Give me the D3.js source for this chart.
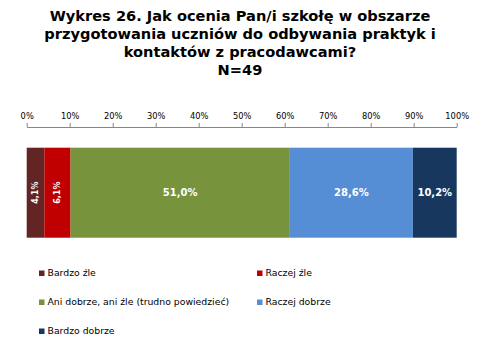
<!DOCTYPE html>
<html><head><meta charset="utf-8">
<script src="https://cdn.jsdelivr.net/npm/d3@7"></script>
<style>body{margin:0;background:#fff}svg{display:block}</style>
</head><body>
<svg id="c" width="480" height="360"></svg>
<script>
const categories = ["Bardzo źle","Raczej źle","Ani dobrze, ani źle (trudno powiedzieć)","Raczej dobrze","Bardzo dobrze"];
const values = [4.1, 6.1, 51.0, 28.6, 10.2];
const colors = ["#632523","#C00000","#77933C","#558ED5","#17375E"];
const tickValues = [0,10,20,30,40,50,60,70,80,90,100];
const titleLines = ["Wykres 26. Jak ocenia Pan/i szkołę w obszarze","przygotowania uczniów do odbywania praktyk i","kontaktów z pracodawcami?","N=49"];

const svg = d3.select("#c");
const font = "DejaVu Sans, Verdana, sans-serif";

// title
svg.append("g").selectAll("text").data(titleLines).join("text")
  .attr("x", 240).attr("y", (d,i)=>20.5 + i*18.3)
  .attr("text-anchor","middle").attr("font-family",font)
  .attr("font-weight","bold").attr("font-size",14.6).attr("fill","#000")
  .text(d=>d);

const x = d3.scaleLinear().domain([0,100]).range([26.7,456.7]);
const axisY = 127;
const axis = d3.axisTop(x).tickValues(tickValues).tickSize(4).tickSizeOuter(0).tickFormat(d=>d+"%");
const ga = svg.append("g").attr("transform",`translate(0,${axisY})`).call(axis);
ga.select(".domain").attr("stroke","#868686");
ga.selectAll(".tick line").attr("stroke","#868686");
ga.selectAll(".tick text").attr("font-family",font).attr("font-size",8.3).attr("fill","#000").attr("dy","-0.1em");

// stacked data
let acc = 0;
const segs = values.map((v,i)=>{const s={start:acc,end:acc+v,v,i}; acc+=v; return s;});
const y = d3.scaleBand().domain(["a"]).range([147.7,237.7]).padding(0);

svg.append("g").selectAll("rect").data(segs).join("rect")
  .attr("x",d=>x(d.start)).attr("width",d=>x(Math.min(d.end,100))-x(d.start))
  .attr("y",y("a")).attr("height",y.bandwidth())
  .attr("fill",d=>colors[d.i]);

const fmt = v => v.toFixed(1).replace(".",",")+"%";
const cy = y("a")+y.bandwidth()/2;
svg.append("g").selectAll("text").data(segs).join("text")
  .attr("transform",d=>{const cx=(x(d.start)+x(Math.min(d.end,100)))/2; return d.v<8?`translate(${cx},${cy}) rotate(-90)`:`translate(${cx},${cy})`;})
  .attr("text-anchor","middle").attr("dy","0.35em")
  .attr("font-family",font).attr("font-weight","bold").attr("font-size",d=>d.v<8?8:10)
  .attr("fill","#fff").text(d=>fmt(d.v));

// legend
const legX = [39,257], legY = [273,302,331];
const lg = svg.append("g").selectAll("g").data(categories).join("g")
  .attr("transform",(d,i)=>`translate(${legX[i%2]},${legY[Math.floor(i/2)]})`);
lg.append("rect").attr("x",0).attr("y",-2.5).attr("width",5.5).attr("height",5.5).attr("fill",(d,i)=>colors[i]);
lg.append("text").attr("x",8.5).attr("dy","0.35em").attr("font-family",font).attr("font-size",9.3).attr("fill","#000").text(d=>d);
</script>
</body></html>
